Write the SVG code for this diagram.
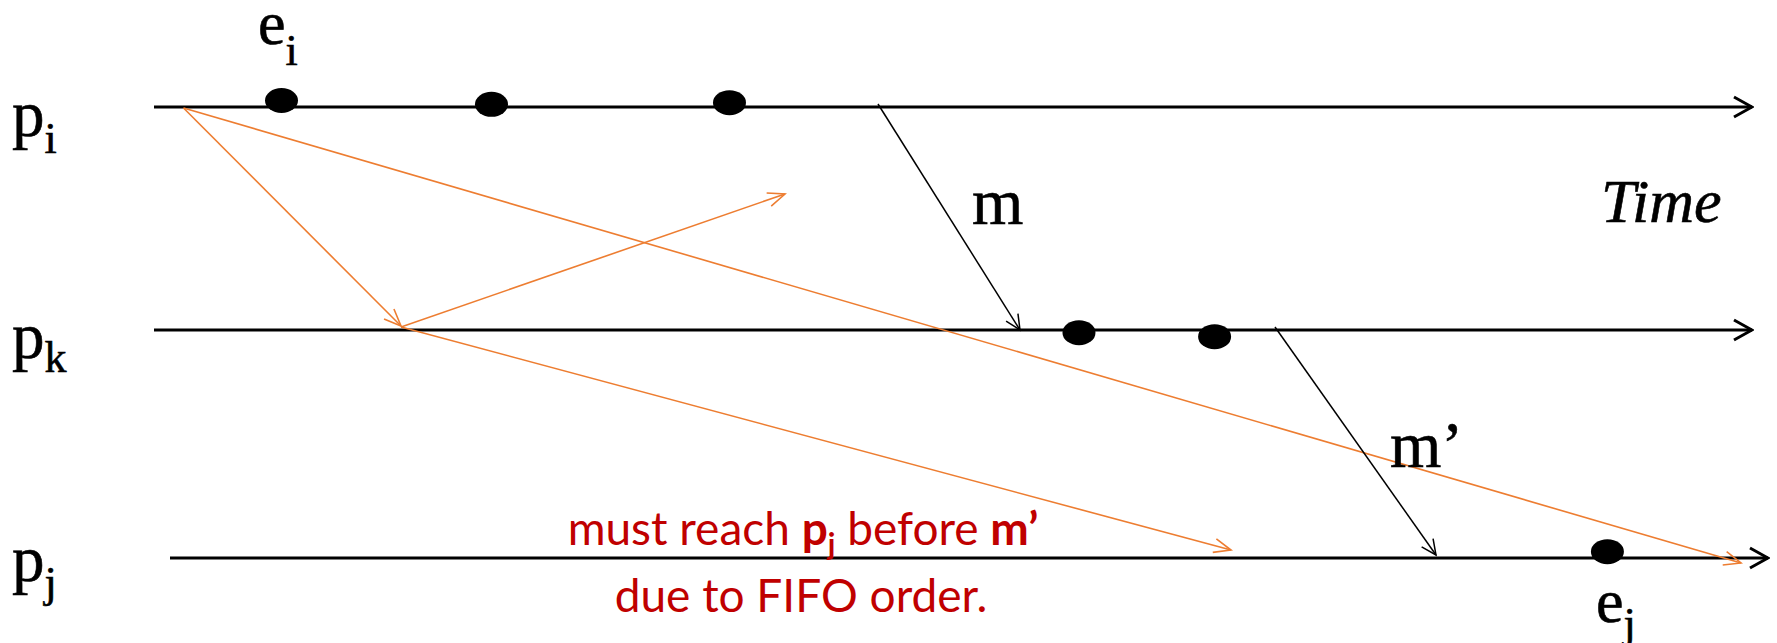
<svg xmlns="http://www.w3.org/2000/svg" width="1777" height="643" viewBox="0 0 1777 643">
<style>
.tl{stroke:#000;stroke-width:3;fill:none}
.msg{stroke:#000;stroke-width:1.5;fill:none}
.or{stroke:#ED7D31;stroke-width:1.6;fill:none}
.ev{fill:#000}
.lbl{fill:#000;stroke:#000;stroke-width:0.6}
.note{fill:#C00000;font-size:46px;text-anchor:middle}
</style>
<defs>
<marker id="aT" markerUnits="userSpaceOnUse" markerWidth="22" markerHeight="24" viewBox="0 0 22 24" refX="20" refY="12" orient="auto">
<path d="M2,2 L20,12 L2,22" stroke="#000" stroke-width="3" fill="none"/>
</marker>
<marker id="aM" markerUnits="userSpaceOnUse" markerWidth="18" markerHeight="18" viewBox="0 0 18 18" refX="16" refY="9" orient="auto">
<path d="M1,2 L16,9 L1,16" stroke="#000" stroke-width="1.5" fill="none"/>
</marker>
<marker id="aO" markerUnits="userSpaceOnUse" markerWidth="20" markerHeight="18" viewBox="0 0 20 18" refX="18" refY="9" orient="auto">
<path d="M1,2 L18,9 L1,16" stroke="#ED7D31" stroke-width="1.6" fill="none"/>
</marker>
</defs>

<g id="timeline-pi">
<line class="tl" x1="154" y1="107" x2="1752" y2="107" marker-end="url(#aT)"/>
<text class="lbl" font-family="'Liberation Serif', 'DejaVu Serif', serif" x="12" y="136" font-size="65">p<tspan font-size="44" dy="17">i</tspan></text>
</g>
<g id="timeline-pk">
<line class="tl" x1="154" y1="330" x2="1752" y2="330" marker-end="url(#aT)"/>
<text class="lbl" font-family="'Liberation Serif', 'DejaVu Serif', serif" x="12" y="358" font-size="65">p<tspan font-size="44" dy="14">k</tspan></text>
</g>
<g id="timeline-pj">
<line class="tl" x1="170" y1="558" x2="1768" y2="558" marker-end="url(#aT)"/>
<text class="lbl" font-family="'Liberation Serif', 'DejaVu Serif', serif" x="12" y="581" font-size="65">p<tspan font-size="44" dy="16">j</tspan></text>
</g>

<g id="events">
<ellipse class="ev" cx="281.5" cy="100.5" rx="16.5" ry="12.5"/>
<ellipse class="ev" cx="491.5" cy="104.3" rx="16.5" ry="12.5"/>
<ellipse class="ev" cx="729.5" cy="102.7" rx="16.5" ry="12.5"/>
<ellipse class="ev" cx="1079" cy="332.7" rx="16.5" ry="12.5"/>
<ellipse class="ev" cx="1214.6" cy="336.7" rx="16.5" ry="12.5"/>
<ellipse class="ev" cx="1607.4" cy="551.7" rx="16.5" ry="12.5"/>
</g>

<g id="label-ei"><text class="lbl" font-family="'Liberation Serif', 'DejaVu Serif', serif" x="258" y="44" font-size="62">e<tspan font-size="44" dy="21">i</tspan></text></g>
<g id="label-ej"><text class="lbl" font-family="'Liberation Serif', 'DejaVu Serif', serif" x="1596" y="622" font-size="62">e<tspan font-size="44" dy="16">j</tspan></text></g>
<g id="label-time"><text class="lbl" font-family="'Liberation Serif', 'DejaVu Serif', serif" x="1601" y="222" font-size="62" font-style="italic">Time</text></g>

<g id="connectors">
<line class="or" x1="183.5" y1="108" x2="401" y2="326" marker-end="url(#aO)"/>
<line class="or" x1="183.5" y1="108" x2="1741" y2="563" marker-end="url(#aO)"/>
<line class="or" x1="401" y1="327" x2="785" y2="194" marker-end="url(#aO)"/>
<line class="or" x1="401" y1="327" x2="1231" y2="550" marker-end="url(#aO)"/>
<line class="msg" x1="878" y1="104" x2="1020" y2="330" marker-end="url(#aM)"/>
<line class="msg" x1="1275" y1="327" x2="1436" y2="555" marker-end="url(#aM)"/>
</g>

<g id="label-m"><text class="lbl" font-family="'Liberation Serif', 'DejaVu Serif', serif" x="972" y="224" font-size="66">m</text></g>
<g id="label-m2"><text class="lbl" font-family="'Liberation Serif', 'DejaVu Serif', serif" x="1390" y="467" font-size="66">m’</text></g>

<g id="note">
<text class="note" font-family="Lato, 'Open Sans', sans-serif" x="803" y="545">must reach <tspan font-weight="bold">p</tspan><tspan font-weight="bold" font-size="30" dy="10">j</tspan><tspan dy="-10"> before </tspan><tspan font-weight="bold">m’</tspan></text>
<text class="note" font-family="Lato, 'Open Sans', sans-serif" x="801" y="612" font-size="47">due to FIFO order.</text>
</g>
</svg>
